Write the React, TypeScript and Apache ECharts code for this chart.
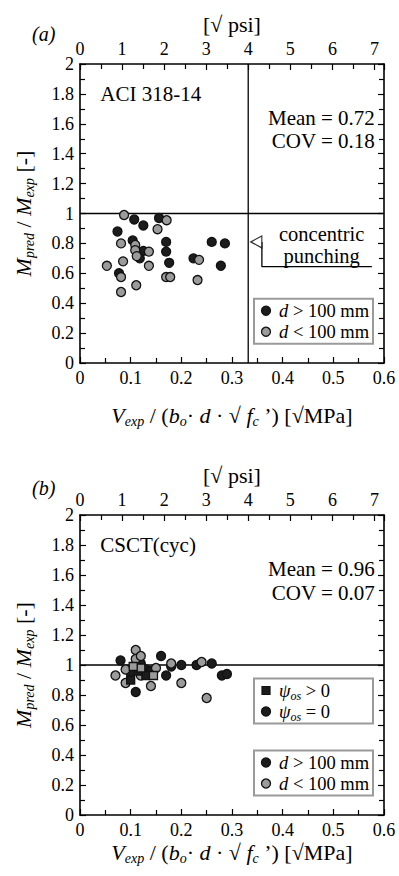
import React, { useEffect, useRef } from "react";
import * as echarts from "echarts";

const F = "'Liberation Serif', 'Times New Roman', serif";
const PSI_MAX = 0.6 * Math.sqrt(145.0377);

// (a) ACI 318-14
const aLargeX = [0.107, 0.125, 0.156, 0.074, 0.104, 0.125, 0.118, 0.17, 0.17, 0.176, 0.077, 0.224, 0.26, 0.286, 0.278];
const aLargeY = [0.96, 0.92, 0.97, 0.88, 0.82, 0.75, 0.7, 0.81, 0.745, 0.67, 0.6, 0.7, 0.81, 0.8, 0.65];
const aSmallX = [0.087, 0.171, 0.153, 0.081, 0.109, 0.109, 0.136, 0.112, 0.085, 0.053, 0.081, 0.136, 0.111, 0.081, 0.17, 0.178, 0.235, 0.232];
const aSmallY = [0.99, 0.955, 0.895, 0.8, 0.79, 0.755, 0.745, 0.715, 0.68, 0.65, 0.575, 0.65, 0.52, 0.475, 0.575, 0.575, 0.69, 0.555];

// (b) CSCT(cyc)
const bLargeX = [0.08, 0.11, 0.12, 0.13, 0.16, 0.17, 0.18, 0.2, 0.23, 0.26, 0.28, 0.29, 0.1, 0.14];
const bLargeY = [1.03, 0.82, 1.01, 0.97, 1.06, 0.93, 0.99, 1.0, 1.0, 1.01, 0.93, 0.94, 0.95, 0.96];
const bSmallX = [0.09, 0.09, 0.11, 0.11, 0.12, 0.15, 0.14, 0.18, 0.2, 0.24, 0.25, 0.12, 0.07];
const bSmallY = [0.97, 0.88, 1.1, 1.04, 1.06, 0.98, 0.86, 1.01, 0.88, 1.02, 0.78, 0.93, 0.93];
const bLargeSqX = [0.1, 0.115, 0.13];
const bLargeSqY = [0.9, 0.96, 0.93];
const bSmallSqX = [0.12, 0.145, 0.105];
const bSmallSqY = [0.98, 0.93, 0.99];

const refLineY = 1;
const aciLimitX = 0.332;
const concentricArrow = [[0.348, 0.81]];
const concentricBracket = [[0.359, 0.81], [0.359, 0.644], [0.576, 0.644]];

const GRIDS = [
  { left: 80, top: 64, width: 304, height: 299 },
  { left: 80, top: 515, width: 304, height: 300 },
];
const px = (g: number, x: number) => GRIDS[g].left + (x / 0.6) * GRIDS[g].width;
const py = (g: number, y: number) => GRIDS[g].top + ((2 - y) / 2) * GRIDS[g].height;

const BLACK = "#1c1c1c";
const GRAY = "#9b9b9b";

const rich = {
  n: { fontFamily: F, fontSize: 22, color: "#000", lineHeight: 26 },
  i: { fontFamily: F, fontSize: 22, fontStyle: "italic", color: "#000", lineHeight: 26 },
  s: { fontFamily: F, fontSize: 14, fontStyle: "italic", color: "#000", verticalAlign: "bottom" },
};
const richSmall = {
  n: { fontFamily: F, fontSize: 18.5, color: "#000", lineHeight: 22 },
  i: { fontFamily: F, fontSize: 18.5, fontStyle: "italic", color: "#000", lineHeight: 22 },
  s: { fontFamily: F, fontSize: 12, fontStyle: "italic", color: "#000", verticalAlign: "bottom" },
};

const X_NAME = "{i|V}{s|exp}{n| / (}{i|b}{s|o}{n|· }{i|d}{n| · √ }{i|f}{s|c}{n| ’) [√MPa]}";
const Y_NAME = "{i|M}{s|pred}{n| / }{i|M}{s|exp}{n| [-]}";

const tickStyle = { color: "#000", width: 1.2 };
const axisLine = { show: true, onZero: false, lineStyle: { color: "#000", width: 1.6 } };
const tickLabel = { color: "#000", fontFamily: F, fontSize: 18, margin: 6 };

function xMain(g: number, gap: number) {
  return {
    type: "value", gridIndex: g, position: "bottom", min: 0, max: 0.6, interval: 0.1,
    axisLine, axisTick: { inside: true, length: 6, lineStyle: tickStyle },
    minorTick: { show: true, splitNumber: 2, length: 5, lineStyle: tickStyle },
    splitLine: { show: false },
    axisLabel: tickLabel,
    name: X_NAME, nameLocation: "middle", nameGap: gap, nameTextStyle: { rich },
  };
}
function xPsi(g: number) {
  return {
    type: "value", gridIndex: g, position: "top", min: 0, max: PSI_MAX, interval: 1,
    axisLine, axisTick: { inside: true, length: 6, lineStyle: tickStyle },
    minorTick: { show: true, splitNumber: 2, length: 5, lineStyle: tickStyle },
    splitLine: { show: false },
    axisLabel: { ...tickLabel, showMaxLabel: false },
    name: "[√ psi]", nameLocation: "middle", nameGap: 29,
    nameTextStyle: { fontFamily: F, fontSize: 22, color: "#000" },
  };
}
function yMain(g: number) {
  return {
    type: "value", gridIndex: g, position: "left", min: 0, max: 2, interval: 0.2,
    axisLine, axisTick: { inside: true, length: 6, lineStyle: tickStyle },
    minorTick: { show: true, splitNumber: 2, length: 5, lineStyle: tickStyle },
    splitLine: { show: false },
    axisLabel: tickLabel,
    name: Y_NAME, nameLocation: "middle", nameGap: 44, nameRotate: 90, nameTextStyle: { rich },
  };
}
function yRight(g: number) {
  return {
    type: "value", gridIndex: g, position: "right", min: 0, max: 2, interval: 0.2,
    axisLine, axisTick: { inside: true, length: 6, lineStyle: tickStyle },
    minorTick: { show: true, splitNumber: 2, length: 5, lineStyle: tickStyle },
    splitLine: { show: false }, axisLabel: { show: false },
  };
}

const zip = (xs: number[], ys: number[]) => xs.map((x, i) => [x, ys[i]]);

function scatter(name: string, xi: number, data: number[][], color: string, symbol = "circle") {
  return {
    name, type: "scatter", xAxisIndex: xi, yAxisIndex: xi, data, symbol,
    symbolSize: symbol === "rect" ? 8 : 9, z: 5,
    itemStyle: { color, borderColor: "#111", borderWidth: 1.3, opacity: 1 },
  };
}
function line(xi: number, data: number[][], z = 3) {
  return {
    type: "line", xAxisIndex: xi, yAxisIndex: xi, data, symbol: "none", z,
    lineStyle: { color: "#000", width: 1.3 }, silent: true,
  };
}

function legendBox(g: number, yTop: number, items: { sym: string; color: string; text: string }[]) {
  const x = 254;
  const top = py(g, yTop);
  const els: any[] = [
    { type: "rect", shape: { x, y: top, width: 119, height: 45 }, style: { fill: "#fff", stroke: "#9a9a9a", lineWidth: 2 }, z: 10 },
  ];
  items.forEach((it, k) => {
    const cy = top + 12 + k * 21;
    if (it.sym === "rect") {
      els.push({ type: "rect", shape: { x: x + 8, y: cy - 4, width: 8, height: 8 }, style: { fill: it.color, stroke: "#111", lineWidth: 1.2 }, z: 11 });
    } else {
      els.push({ type: "circle", shape: { cx: x + 12, cy, r: 4.5 }, style: { fill: it.color, stroke: "#111", lineWidth: 1.3 }, z: 11 });
    }
    els.push({ type: "text", x: x + 25, y: cy, style: { text: it.text, rich: richSmall, verticalAlign: "middle", align: "left" }, z: 11 });
  });
  return els;
}

function texts() {
  const t = (x: number, y: number, s: string, align = "left", size = 21, italic = false) => ({
    type: "text", x, y, z: 10,
    style: { text: s, fontFamily: F, fontSize: size, fontStyle: italic ? "italic" : "normal", fill: "#000", align, verticalAlign: "middle" },
  });
  return [
    t(32, 34, "(a)", "left", 20, true),
    t(32, 488, "(b)", "left", 20, true),
    t(px(0, 0.04), py(0, 1.8), "ACI 318-14"),
    t(px(1, 0.04), py(1, 1.8), "CSCT(cyc)"),
    t(px(0, 0.582), py(0, 1.64), "Mean = 0.72", "right"),
    t(px(0, 0.582), py(0, 1.483), "COV = 0.18", "right"),
    t(px(1, 0.582), py(1, 1.64), "Mean = 0.96", "right"),
    t(px(1, 0.582), py(1, 1.483), "COV = 0.07", "right"),
    t(px(0, 0.477), py(0, 0.865), "concentric", "center", 20.5),
    t(px(0, 0.477), py(0, 0.718), "punching", "center", 20.5),
    ...legendBox(0, 0.43, [
      { sym: "circle", color: BLACK, text: "{i|d}{n| > 100 mm}" },
      { sym: "circle", color: GRAY, text: "{i|d}{n| < 100 mm}" },
    ]),
    ...legendBox(1, 0.91, [
      { sym: "rect", color: BLACK, text: "{i|ψ}{s|os}{n| > 0}" },
      { sym: "circle", color: BLACK, text: "{i|ψ}{s|os}{n| = 0}" },
    ]),
    ...legendBox(1, 0.43, [
      { sym: "circle", color: BLACK, text: "{i|d}{n| > 100 mm}" },
      { sym: "circle", color: GRAY, text: "{i|d}{n| < 100 mm}" },
    ]),
  ];
}

export default function App() {
  const ref = useRef<HTMLDivElement>(null);
  useEffect(() => {
    document.body.style.margin = "0";
    const chart = echarts.init(ref.current!, undefined, { renderer: "svg" });
    chart.setOption({
      animation: false,
      backgroundColor: "#fff",
      grid: GRIDS.map((g) => ({ ...g, containLabel: false })),
      xAxis: [xMain(0, 39), xPsi(0), xMain(1, 24), xPsi(1)],
      yAxis: [yMain(0), yRight(0), yMain(1), yRight(1)],
      series: [
        line(0, [[0, refLineY], [0.6, refLineY]]),
        line(0, [[aciLimitX, 0], [aciLimitX, 2]]),
        line(0, concentricBracket),
        {
          type: "scatter", xAxisIndex: 0, yAxisIndex: 0, data: concentricArrow, symbol: "triangle",
          symbolSize: [12, 11], symbolRotate: 90, z: 4,
          itemStyle: { color: "#fff", borderColor: "#000", borderWidth: 1.2 },
        },
        scatter("d > 100 mm", 0, zip(aLargeX, aLargeY), BLACK),
        scatter("d < 100 mm", 0, zip(aSmallX, aSmallY), GRAY),
        line(2, [[0, refLineY], [0.6, refLineY]]),
        scatter("d > 100 mm (b)", 2, zip(bLargeX, bLargeY), BLACK),
        scatter("d < 100 mm (b)", 2, zip(bSmallX, bSmallY), GRAY),
        scatter("psi > 0 large", 2, zip(bLargeSqX, bLargeSqY), BLACK, "rect"),
        scatter("psi > 0 small", 2, zip(bSmallSqX, bSmallSqY), GRAY, "rect"),
      ],
      graphic: texts(),
    });
    return () => chart.dispose();
  }, []);
  return <div ref={ref} style={{ position: "absolute", left: 0, top: 0, width: 399, height: 876, background: "#fff" }} />;
}
